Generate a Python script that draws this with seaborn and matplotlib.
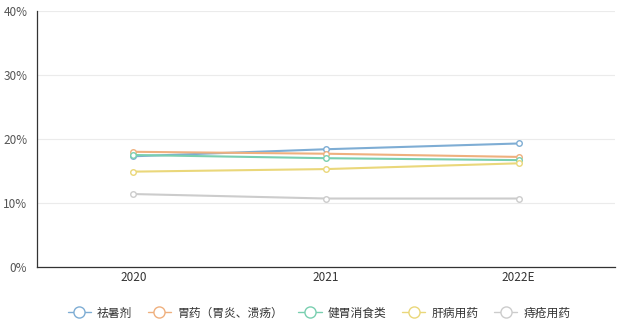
import matplotlib
matplotlib.use("Agg")
import matplotlib.pyplot as plt
from matplotlib.lines import Line2D
import seaborn as sns
import pandas as pd
import numpy as np

years = ["2020", "2021", "2022E"]
series_names = ["祛暑剂", "胃药（胃炎、溃疡）", "健胃消食类", "肝病用药", "痔疮用药"]
s_qushu = [17.3, 18.4, 19.3]
s_weiyao = [18.0, 17.7, 17.2]
s_jianwei = [17.5, 17.0, 16.7]
s_ganbing = [14.9, 15.3, 16.2]
s_zhichuang = [11.4, 10.7, 10.7]
y_ticks = [0, 10, 20, 30, 40]
y_tick_labels = ["0%", "10%", "20%", "30%", "40%"]
colors = ["#7eadd4", "#efb07e", "#79cfb0", "#ead77a", "#cccccc"]

values = [s_qushu, s_weiyao, s_jianwei, s_ganbing, s_zhichuang]
rows = []
for name, vals in zip(series_names, values):
    for i, (yr, v) in enumerate(zip(years, vals)):
        rows.append({"year": yr, "pos": i, "series": name, "value": v})
df = pd.DataFrame(rows)

sns.set_theme(style="white")
plt.rcParams['font.family'] = ['Noto Sans CJK SC', 'DejaVu Sans']

fig = plt.figure(figsize=(6.24, 3.29), dpi=100)
ax = fig.add_axes([37/624, (329-267)/329, (615-37)/624, (267-11)/329])

palette = dict(zip(series_names, colors))
sns.lineplot(data=df, x="pos", y="value", hue="series", palette=palette,
             marker="o", markersize=4, markerfacecolor="white",
             markeredgewidth=1.0, linewidth=1.5, ax=ax, legend=False,
             hue_order=series_names)
for line, c in zip(ax.lines, colors):
    line.set_markeredgecolor(c)

ax.set_xlim(-0.5, 2.5)
ax.set_ylim(0, 40)
ax.set_yticks(y_ticks)
ax.set_yticklabels(y_tick_labels)
ax.set_xticks(range(len(years)))
ax.set_xticklabels(years)
ax.set_xticks([-0.5, 0.5, 1.5, 2.5], minor=True)
ax.tick_params(axis="x", which="major", length=0, pad=3, labelsize=8.5, labelcolor="#333333")
ax.tick_params(axis="x", which="minor", length=5, width=0.8, color="#333333", direction="out")
ax.tick_params(axis="y", which="major", length=5, width=0.8, color="#333333", pad=2,
               labelsize=8.5, labelcolor="#555555", direction="out")
ax.set_xlabel("")
ax.set_ylabel("")
ax.grid(axis="y", color="#ebebeb", linewidth=0.8)
ax.set_axisbelow(True)
for s in ["top", "right"]:
    ax.spines[s].set_visible(False)
for s in ["left", "bottom"]:
    ax.spines[s].set_color("#333333")
    ax.spines[s].set_linewidth(0.9)

handles = [Line2D([0], [0], color=c, linewidth=1.0, marker="o", markersize=8,
                  markerfacecolor="white", markeredgecolor=c, markeredgewidth=1.0)
           for c in colors]
fig.legend(handles, series_names, loc="center", bbox_to_anchor=(0.511, (329-313)/329),
           ncol=5, frameon=False, fontsize=8.5, handlelength=2.0, handletextpad=0.5,
           columnspacing=1.3, labelcolor="#333333")

fig.savefig("out.png", dpi=100)
